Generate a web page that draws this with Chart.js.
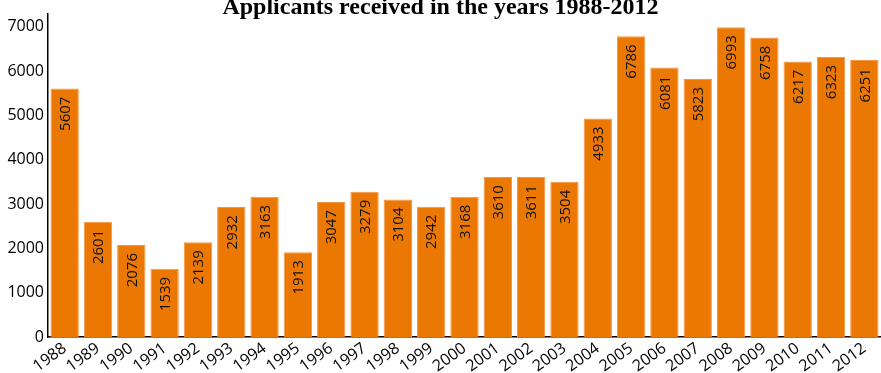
<!DOCTYPE html>
<html>
<head>
<meta charset="utf-8">
<script src="https://cdn.jsdelivr.net/npm/chart.js@4/dist/chart.umd.min.js"></script>
<style>
  html, body { margin: 0; padding: 0; background: #fff; }
  #wrap { width: 881px; height: 373px; }
</style>
</head>
<body>
<div id="wrap"><canvas id="myChart"></canvas></div>
<script>
// data
const years = ['1988','1989','1990','1991','1992','1993','1994','1995','1996','1997','1998','1999',
  '2000','2001','2002','2003','2004','2005','2006','2007','2008','2009','2010','2011','2012'];
const applicants = [5607, 2601, 2076, 1539, 2139, 2932, 3163, 1913, 3047, 3279, 3104, 2942,
  3168, 3610, 3611, 3504, 4933, 6786, 6081, 5823, 6993, 6758, 6217, 6323, 6251];
const yTicks = [0, 1000, 2000, 3000, 4000, 5000, 6000, 7000];

const orange = 'rgb(236,120,4)';

// value labels, turned a quarter anticlockwise, ending just under the top of each bar
const barLabels = {
  id: 'barLabels',
  afterDatasetsDraw(chart) {
    const ctx = chart.ctx;
    const meta = chart.getDatasetMeta(0);
    ctx.save();
    ctx.font = '15px "Open Sans"';
    ctx.fillStyle = '#111';
    ctx.textAlign = 'right';
    ctx.textBaseline = 'middle';
    meta.data.forEach((bar, i) => {
      ctx.save();
      ctx.translate(bar.x + 1, bar.y + 8);
      ctx.rotate(-Math.PI / 2);
      ctx.fillText(String(applicants[i]), 0, 0);
      ctx.restore();
    });
    ctx.restore();
  }
};

new Chart(document.getElementById('myChart'), {
  type: 'bar',
  data: {
    labels: years,
    datasets: [{
      label: 'Applicants',
      data: applicants,
      backgroundColor: orange,
      borderColor: 'rgb(242,150,70)',
      borderWidth: 1,
      borderSkipped: 'bottom',
      barPercentage: 0.85,
      categoryPercentage: 1
    }]
  },
  options: {
    responsive: true,
    maintainAspectRatio: false,
    animation: false,
    layout: { padding: { top: 0, right: 0, bottom: 0, left: 0 } },
    plugins: {
      legend: { display: false },
      tooltip: { enabled: false },
      title: {
        display: true,
        text: 'Applicants received in the years 1988-2012',
        color: '#000',
        font: { family: '"Liberation Serif", "Times New Roman", serif', size: 24, weight: 'bold', lineHeight: 1.2 },
        padding: { top: -11.5, bottom: -8.3 }
      }
    },
    scales: {
      x: {
        grid: { display: false, drawTicks: false },
        border: { color: '#000', width: 1.5 },
        ticks: {
          color: '#000',
          font: { family: '"Open Sans"', size: 16 },
          minRotation: 36,
          maxRotation: 36,
          padding: 2,
          autoSkip: false
        },
        afterFit(scale) { scale.height = 36; }
      },
      y: {
        min: 0,
        max: 7300,
        grid: { display: false, drawTicks: false },
        border: { color: '#000', width: 1.5 },
        ticks: {
          color: '#000',
          font: { family: '"Open Sans"', size: 16 },
          padding: 4,
          stepSize: 1000,
          callback: v => String(v)
        },
        afterBuildTicks(scale) {
          scale.ticks = yTicks.map(v => ({ value: v }));
        },
        afterFit(scale) { scale.width = 48; }
      }
    }
  },
  plugins: [barLabels]
});
</script>
</body>
</html>
